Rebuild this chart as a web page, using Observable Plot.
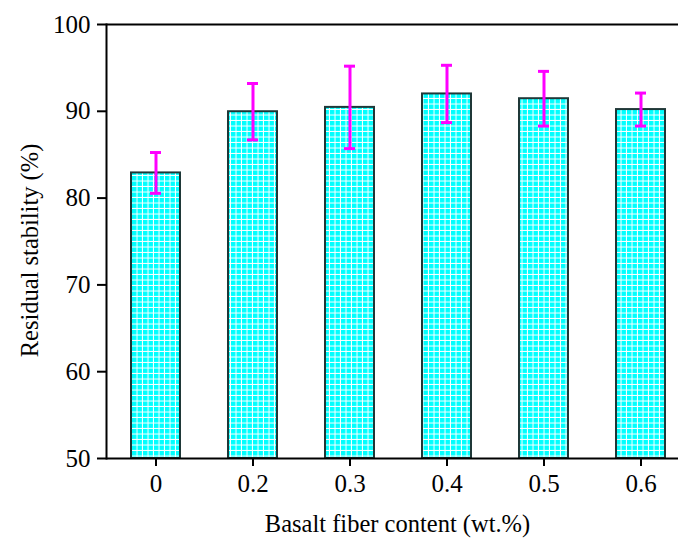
<!DOCTYPE html>
<html>
<head>
<meta charset="utf-8">
<script src="https://cdn.jsdelivr.net/npm/d3@7"></script>
<script src="https://cdn.jsdelivr.net/npm/@observablehq/plot@0.6"></script>
<style>
  html, body { margin: 0; padding: 0; background: white; }
</style>
</head>
<body>
<div id="chart"></div>
<script>
const categories = ["0", "0.2", "0.3", "0.4", "0.5", "0.6"];
const stability = [82.9, 89.95, 90.45, 92.0, 91.45, 90.2];
const errors = [2.35, 3.25, 4.75, 3.3, 3.15, 1.9];
const yTicks = [50, 60, 70, 80, 90, 100];
const xTitle = "Basalt fiber content (wt.%)";
const yTitle = "Residual stability (%)";

const data = categories.map((c, i) => ({cat: c, v: stability[i], e: errors[i]}));
const magenta = "#ff00ff";

const chart = Plot.plot({
  width: 678,
  height: 540,
  marginLeft: 106,
  marginRight: 0,
  marginTop: 24,
  marginBottom: 82,
  style: {fontFamily: "'Liberation Serif', 'Times New Roman', serif", fontSize: "25px", background: "white", color: "black"},
  x: {type: "band", domain: categories, range: [81.6, 713.4], paddingInner: 0.5, paddingOuter: 0.5},
  y: {domain: [50, 100]},
  marks: [
    Plot.barY(data, {x: "cat", y1: 50, y2: "v", fill: "url(#gridpat)", stroke: "#1f3838", strokeWidth: 2}),
    Plot.ruleX(data, {x: "cat", y1: d => d.v - d.e, y2: d => d.v + d.e, stroke: magenta, strokeWidth: 3}),
    Plot.tickY(data, {x: "cat", y: d => d.v + d.e, stroke: magenta, strokeWidth: 3, insetLeft: 19, insetRight: 19}),
    Plot.tickY(data, {x: "cat", y: d => d.v - d.e, stroke: magenta, strokeWidth: 3, insetLeft: 19, insetRight: 19}),
    Plot.ruleY([50, 100], {stroke: "black", strokeWidth: 2}),
    Plot.frame({anchor: "left", stroke: "black", strokeWidth: 2}),
    Plot.axisY({ticks: yTicks, tickSize: 9, tickPadding: 7, strokeWidth: 2, label: null, fontSize: 25}),
    Plot.axisX({tickSize: 8, tickPadding: 8, strokeWidth: 2, label: null, fontSize: 25}),
    Plot.text([xTitle], {frameAnchor: "bottom", dx: 5, dy: 66, fontSize: 24.5, lineAnchor: "middle", textAnchor: "middle"}),
    Plot.text([yTitle], {frameAnchor: "left", dx: -76, dy: 9, rotate: -90, fontSize: 24.5, lineAnchor: "middle", textAnchor: "middle"})
  ]
});

const ns = "http://www.w3.org/2000/svg";
const defs = document.createElementNS(ns, "defs");
defs.innerHTML = `
  <pattern id="gridpat" patternUnits="userSpaceOnUse" width="5.5" height="5.5">
    <rect width="5.5" height="5.5" fill="#00ffff"></rect>
    <rect x="4.5" y="0" width="1" height="5.5" fill="#ffffff"></rect>
    <rect x="0" y="4.5" width="5.5" height="1" fill="#ffffff"></rect>
  </pattern>`;
chart.insertBefore(defs, chart.firstChild);
document.getElementById("chart").appendChild(chart);
</script>
</body>
</html>
